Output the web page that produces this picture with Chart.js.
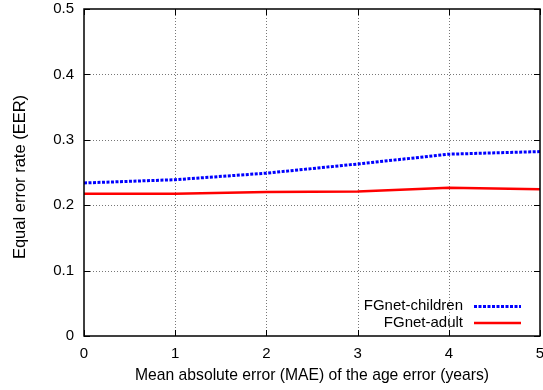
<!DOCTYPE html>
<html lang="en">
<head>
    <meta charset="UTF-8">
    <title>EER vs MAE</title>
    <style>
        body { margin: 0; background: #fff; }
        .wrap { width: 543px; height: 390px; position: relative; }
    </style>
    <script src="https://cdn.jsdelivr.net/npm/chart.js"></script>
</head>
<body>
    <div class="wrap"><canvas id="chart" width="543" height="390"></canvas></div>
    <script>
        // data
        const maeYears = [0, 1, 2, 3, 4, 5];
        const childrenEER = [0.234, 0.239, 0.249, 0.263, 0.278, 0.282];
        const adultEER = [0.2175, 0.2175, 0.220, 0.221, 0.2265, 0.2245];
        const seriesNames = ['FGnet-children', 'FGnet-adult'];
        const xTitle = 'Mean absolute error (MAE) of the age error (years)';
        const yTitle = 'Equal error rate (EER)';

        const FAMILY = '"Liberation Sans", Arial, sans-serif';

        // dotted grid drawn under the lines, gnuplot style
        const dottedGrid = {
            id: 'dottedGrid',
            beforeDatasetsDraw(chart) {
                const ctx = chart.ctx;
                const a = chart.chartArea;
                const xs = chart.scales.x, ys = chart.scales.y;
                ctx.save();
                ctx.strokeStyle = '#777';
                ctx.lineWidth = 1;
                ctx.setLineDash([1, 2]);
                ctx.beginPath();
                xs.ticks.forEach(t => {
                    if (t.value <= xs.min || t.value >= xs.max) return;
                    const px = Math.round(xs.getPixelForValue(t.value)) + 0.5;
                    ctx.moveTo(px, a.top); ctx.lineTo(px, a.bottom);
                });
                ys.ticks.forEach(t => {
                    if (t.value <= ys.min || t.value >= ys.max) return;
                    const py = Math.round(ys.getPixelForValue(t.value)) + 0.5;
                    ctx.moveTo(a.left, py); ctx.lineTo(a.right, py);
                });
                ctx.stroke();
                ctx.restore();
            }
        };

        // frame, inward ticks, axis titles and legend
        const gnuplotBits = {
            id: 'gnuplotBits',
            afterDatasetsDraw(chart) {
                const ctx = chart.ctx;
                const a = chart.chartArea;
                const xs = chart.scales.x, ys = chart.scales.y;
                ctx.save();
                ctx.strokeStyle = '#000';
                ctx.lineWidth = 1;
                ctx.setLineDash([]);
                ctx.beginPath();
                xs.ticks.forEach(t => {
                    const px = Math.round(xs.getPixelForValue(t.value)) + 0.5;
                    ctx.moveTo(px, a.bottom); ctx.lineTo(px, a.bottom - 6);
                    ctx.moveTo(px, a.top); ctx.lineTo(px, a.top + 6);
                });
                ys.ticks.forEach(t => {
                    const py = Math.round(ys.getPixelForValue(t.value)) + 0.5;
                    ctx.moveTo(a.left, py); ctx.lineTo(a.left + 6, py);
                    ctx.moveTo(a.right, py); ctx.lineTo(a.right - 6, py);
                });
                ctx.stroke();
                ctx.lineWidth = 1.5;
                ctx.strokeRect(a.left, a.top, a.right - a.left, a.bottom - a.top);

                // legend, text before sample
                ctx.font = '15px ' + FAMILY;
                ctx.fillStyle = '#000';
                ctx.textAlign = 'right';
                ctx.textBaseline = 'middle';
                chart.data.datasets.forEach((ds, i) => {
                    const y = 306 + i * 16.5;
                    ctx.fillText(ds.label, 463, y);
                    ctx.strokeStyle = ds.borderColor;
                    ctx.lineWidth = ds.borderWidth;
                    ctx.setLineDash(ds.borderDash || []);
                    ctx.beginPath();
                    ctx.moveTo(474, y + 0.5); ctx.lineTo(521, y + 0.5);
                    ctx.stroke();
                });
                ctx.setLineDash([]);

                // axis titles
                ctx.textAlign = 'center';
                ctx.font = '15.7px ' + FAMILY;
                ctx.fillText(xTitle, (a.left + a.right) / 2, 376);
                ctx.font = '16.5px ' + FAMILY;
                ctx.translate(20, 177);
                ctx.rotate(-Math.PI / 2);
                ctx.fillText(yTitle, 0, 0);
                ctx.restore();
            }
        };

        new Chart(document.getElementById('chart'), {
            type: 'line',
            data: {
                datasets: [
                    {
                        label: seriesNames[0],
                        data: maeYears.map((x, i) => ({ x: x, y: childrenEER[i] })),
                        borderColor: '#0000ff',
                        borderWidth: 3,
                        borderDash: [3, 1.5],
                        pointRadius: 0,
                        tension: 0,
                        fill: false
                    },
                    {
                        label: seriesNames[1],
                        data: maeYears.map((x, i) => ({ x: x, y: adultEER[i] })),
                        borderColor: '#ff0000',
                        borderWidth: 2.5,
                        pointRadius: 0,
                        tension: 0,
                        fill: false
                    }
                ]
            },
            options: {
                responsive: false,
                animation: false,
                layout: { padding: { left: 0, right: 3, top: 9, bottom: 0 } },
                plugins: {
                    legend: { display: false },
                    tooltip: { enabled: false }
                },
                scales: {
                    x: {
                        type: 'linear',
                        min: 0, max: 5,
                        border: { display: false },
                        grid: { display: false, drawTicks: false },
                        ticks: { stepSize: 1, color: '#000', font: { family: FAMILY, size: 15 }, padding: 9, maxRotation: 0 },
                        afterFit: s => { s.height = 54; s.paddingLeft = 0; s.paddingRight = 0; }
                    },
                    y: {
                        min: 0, max: 0.5,
                        border: { display: false },
                        grid: { display: false, drawTicks: false },
                        ticks: { stepSize: 0.1, color: '#000', font: { family: FAMILY, size: 15 }, padding: 10,
                            callback: v => (Math.round(v * 10) / 10).toString() },
                        afterFit: s => { s.width = 84; s.paddingTop = 0; s.paddingBottom = 0; }
                    }
                }
            },
            plugins: [dottedGrid, gnuplotBits]
        });
    </script>
</body>
</html>
